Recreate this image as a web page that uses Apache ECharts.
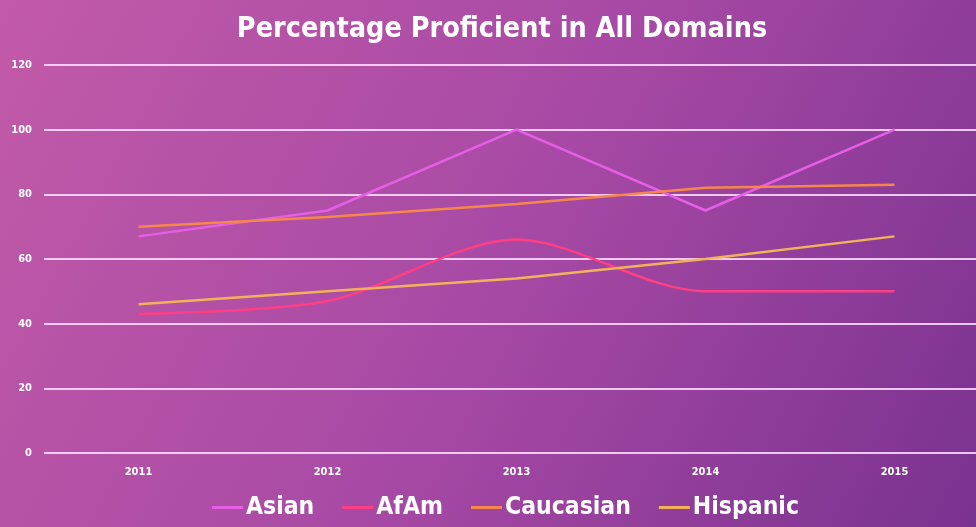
<!DOCTYPE html>
<html>
<head>
<meta charset="utf-8">
<script src="https://cdn.jsdelivr.net/npm/echarts@6/dist/echarts.min.js"></script>
<style>html,body{margin:0;padding:0;}#c{width:976px;height:527px;}</style>
</head>
<body>
<div id="c"></div>
<script>
const categories = ['2011', '2012', '2013', '2014', '2015'];
const asian = [67, 75, 100, 75, 100];
const afam = [43, 47, 66, 50, 50];
const caucasian = [70, 73, 77, 82, 83];
const hispanic = [46, 50, 54, 60, 67];
const seriesNames = ['Asian', 'AfAm', 'Caucasian', 'Hispanic'];

const chart = echarts.init(document.getElementById('c'));
const font = '"DejaVu Sans Condensed", "DejaVu Sans", sans-serif';
function line(name, data, color, smooth) {
  return {
    name: name, type: 'line', data: data, smooth: smooth,
    symbol: 'none', lineStyle: { color: color, width: 2.5 },
    itemStyle: { color: color }
  };
}
chart.setOption({
  backgroundColor: {
    type: 'linear', x: 0, y: 0, x2: 1, y2: 1,
    colorStops: [
      { offset: 0, color: '#c25aa8' },
      { offset: 0.5, color: '#a84aa5' },
      { offset: 1, color: '#7a3290' }
    ]
  },
  title: {
    text: 'Percentage Proficient in All Domains',
    top: 10, left: 497, textAlign: 'center',
    textStyle: { color: '#ffffff', fontSize: 28.5, fontWeight: 'bold', fontFamily: font }
  },
  legend: {
    data: seriesNames,
    bottom: 2, left: 207,
    icon: 'rect', itemWidth: 31, itemHeight: 3, itemGap: 28,
    textStyle: { color: '#ffffff', fontSize: 24.5, fontWeight: 'bold', fontFamily: font, padding: [0, 0, 0, -2] }
  },
  grid: { left: 44, width: 945, top: 65, height: 388, outerBoundsMode: 'none', containLabel: false },
  xAxis: {
    type: 'category', data: categories, boundaryGap: true,
    axisLine: { show: false }, axisTick: { show: false },
    axisLabel: { color: '#ffffff', fontSize: 11, fontWeight: 'bold', fontFamily: font, margin: 14 }
  },
  yAxis: {
    type: 'value', min: 0, max: 120, interval: 20,
    axisLine: { show: false }, axisTick: { show: false },
    axisLabel: { color: '#ffffff', fontSize: 11, fontWeight: 'bold', fontFamily: font, margin: 12 },
    splitLine: { lineStyle: { color: 'rgba(255,225,255,0.85)', width: 2 } }
  },
  series: [
    line('Asian', asian, '#e65ee6', false),
    line('AfAm', afam, '#ff3f84', 0.3),
    line('Caucasian', caucasian, '#f5874a', false),
    line('Hispanic', hispanic, '#f2b25a', false)
  ]
});
</script>
</body>
</html>
